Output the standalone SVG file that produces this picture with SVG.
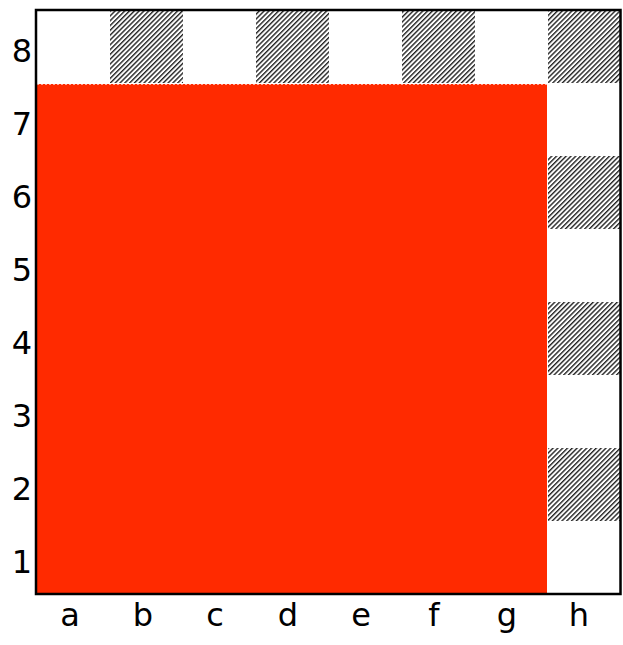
<svg xmlns="http://www.w3.org/2000/svg" width="623" height="645" viewBox="0 0 623 645">
<style>
.lbl{font-family:"Comic Sans MS","DejaVu Sans","Liberation Sans",sans-serif;font-size:32px;fill:#000;text-anchor:middle}
.dark{fill:url(#hatch)}
</style>
<defs>
<pattern id="hatch" patternUnits="userSpaceOnUse" width="3.4" height="3.4" patternTransform="rotate(45)">
<rect width="3.4" height="3.4" fill="#fff"/>
<line x1="0.7" y1="0" x2="0.7" y2="3.4" stroke="#222" stroke-width="1.4"/>
</pattern>
</defs>
<rect width="623" height="645" fill="#fff"/>
<g id="board">
<rect x="110" y="10" width="73" height="73" class="dark"/>
<rect x="256" y="10" width="73" height="73" class="dark"/>
<rect x="402" y="10" width="73" height="73" class="dark"/>
<rect x="548" y="10" width="73" height="73" class="dark"/>
<rect x="548" y="156" width="73" height="73" class="dark"/>
<rect x="548" y="302" width="73" height="73" class="dark"/>
<rect x="548" y="448" width="73" height="73" class="dark"/>
</g>
<g id="region">
<rect x="37" y="84" width="510" height="510" fill="#ff2a00"/>
<path d="M37 84.5H547.5V594" fill="none" stroke="#fff" stroke-width="1" stroke-dasharray="2,2" opacity="0.6"/>
</g>
<rect x="36" y="10" width="584.5" height="584" fill="none" stroke="#000" stroke-width="2.5"/>
<g id="ranks">
<text class="lbl" x="22" y="62">8</text>
<text class="lbl" x="22" y="135">7</text>
<text class="lbl" x="22" y="208">6</text>
<text class="lbl" x="22" y="281">5</text>
<text class="lbl" x="22" y="354">4</text>
<text class="lbl" x="22" y="427">3</text>
<text class="lbl" x="22" y="500">2</text>
<text class="lbl" x="22" y="573">1</text>
</g>
<g id="files">
<text class="lbl" x="70" y="626">a</text>
<text class="lbl" x="143" y="626">b</text>
<text class="lbl" x="215" y="626">c</text>
<text class="lbl" x="288" y="626">d</text>
<text class="lbl" x="361" y="626">e</text>
<text class="lbl" x="434" y="626">f</text>
<text class="lbl" x="507" y="626">g</text>
<text class="lbl" x="579" y="626">h</text>
</g>
</svg>
